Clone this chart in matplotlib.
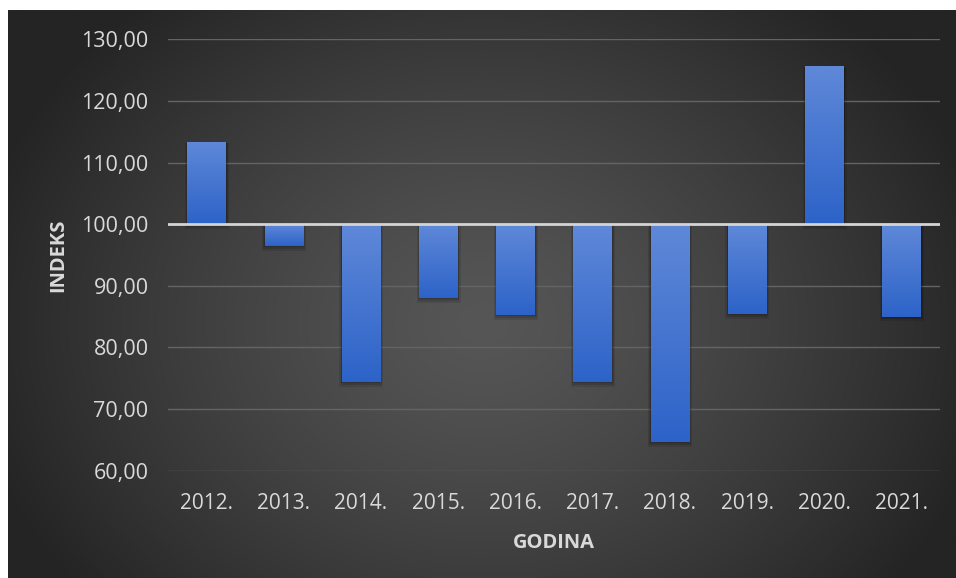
import numpy as np
import matplotlib
matplotlib.use("Agg")
import matplotlib.pyplot as plt
from matplotlib.colors import LinearSegmentedColormap

# ---- data ----
years = ["2012.", "2013.", "2014.", "2015.", "2016.", "2017.", "2018.", "2019.", "2020.", "2021."]
indeks = [113.4, 96.5, 74.4, 88.0, 85.3, 74.4, 64.7, 85.4, 125.6, 85.0]
y_ticks = [60, 70, 80, 90, 100, 110, 120, 130]
baseline = 100

W, H = 956, 578
fig = plt.figure(figsize=(W / 100, H / 100), dpi=100, facecolor="white")

# radial gradient background (dark area with small white margin left/top)
bg = fig.add_axes([8 / W, 0, 1 - 8 / W, 1 - 10 / H])
bg.set_axis_off()
ny, nx = 300, 500
yy, xx = np.mgrid[0:ny, 0:nx]
cx, cy = nx * 0.5, ny * 0.55
r = np.sqrt(((xx - cx) / (nx * 0.55)) ** 2 + ((yy - cy) / (ny * 0.75)) ** 2)
r = np.clip(r, 0, 1)
c_in = np.array([0x56, 0x56, 0x56]) / 255
c_out = np.array([0x24, 0x24, 0x24]) / 255
img = c_in[None, None, :] * (1 - r[..., None] ** 1.3) + c_out[None, None, :] * (r[..., None] ** 1.3)
bg.imshow(img, aspect="auto", extent=[0, 1, 0, 1], origin="upper")
bg.set_xlim(0, 1)
bg.set_ylim(0, 1)

ax = fig.add_axes([168 / W, 1 - 470.7 / H, (940 - 168) / W, (470.7 - 39.3) / H])
ax.patch.set_alpha(0)

x = np.arange(len(years))
heights = [v - baseline for v in indeks]
bars = ax.bar(x, heights, bottom=baseline, width=0.5, color="#3d6fd2",
              edgecolor="none", zorder=3)

# gradient overlay + soft shadow on each bar
grad_cmap = LinearSegmentedColormap.from_list("g", ["#5f88d8", "#2d63c8"])
grad = np.linspace(0, 1, 100).reshape(-1, 1)
for b in bars:
    x0, y0 = b.get_x(), b.get_y()
    w, h = b.get_width(), b.get_height()
    ylo, yhi = min(y0, y0 + h), max(y0, y0 + h)
    for k, a in [(0.035, 0.10), (0.02, 0.12), (0.008, 0.15)]:
        ax.bar(x0 + w / 2 + 0.005, yhi - ylo + 0.3 * k / 0.02, bottom=ylo - 0.45 * k / 0.02,
               width=w + 2 * k, color="black", alpha=a, zorder=2, edgecolor="none")
    im = ax.imshow(grad, cmap=grad_cmap, aspect="auto",
                   extent=[x0, x0 + w, ylo, yhi], origin="upper", zorder=4)
    im.set_clip_path(b)

ax.set_xlim(-0.5, len(years) - 0.5)
ax.set_ylim(60, 130)
ax.set_yticks(y_ticks)
ax.set_yticklabels([f"{t:.2f}".replace(".", ",") for t in y_ticks])
ax.set_xticks(x)
ax.set_xticklabels(years)

ax.grid(axis="y", color="#646464", linewidth=1.0, zorder=1)
ax.set_axisbelow(True)
ax.axhline(baseline, color="#d4d4d4", linewidth=2, zorder=5)

for s in ax.spines.values():
    s.set_visible(False)
ax.tick_params(length=0, colors="#d9d9d9")
ax.tick_params(axis="y", pad=14, labelsize=15.5)
ax.tick_params(axis="x", pad=16, labelsize=15)
for lab in ax.get_xticklabels() + ax.get_yticklabels():
    lab.set_fontfamily("Open Sans")

ax.set_ylabel("INDEKS", color="#d9d9d9", fontsize=14.5, fontweight="bold",
              fontfamily="Open Sans", labelpad=9)
ax.set_xlabel("GODINA", color="#d9d9d9", fontsize=14.5, fontweight="bold",
              fontfamily="Open Sans", labelpad=14)

fig.savefig("out.png", dpi=100, facecolor=fig.get_facecolor())
